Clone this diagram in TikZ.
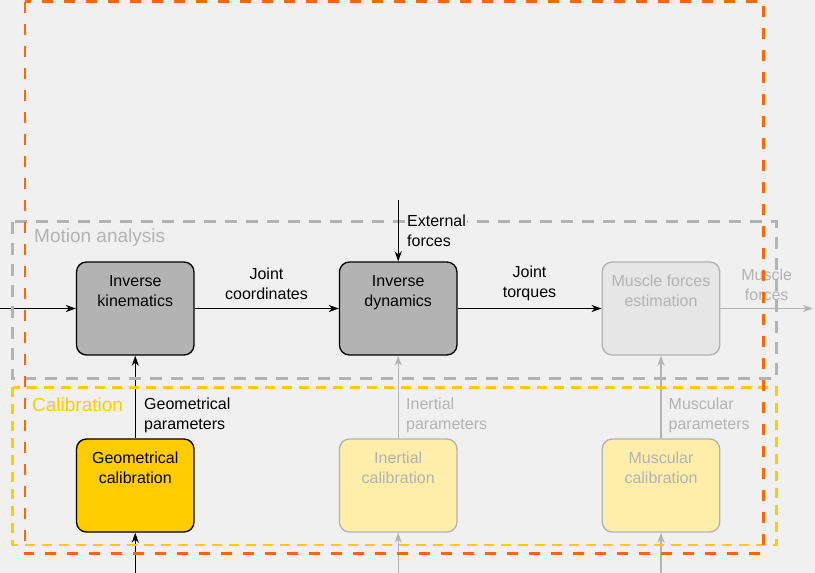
\documentclass[tikz,border=0pt]{standalone}
\usepackage{fontspec}
\setmainfont{Liberation Sans}
\usetikzlibrary{arrows.meta}
\definecolor{bg}{HTML}{F0F0F0}
\definecolor{gr}{HTML}{B3B3B3}
\definecolor{lgr}{HTML}{E6E6E6}
\definecolor{yel}{HTML}{FFCC00}
\definecolor{lyel}{HTML}{FFEEAA}
\definecolor{org}{HTML}{FF6600}
\newcommand\boxtxt[2]{\parbox[b][93pt][t]{116pt}{\centering\rule{0pt}{24pt}#1\\#2}}
\newcommand\twoc[1]{\begin{tabular}[t]{@{}c@{}}#1\end{tabular}}
\newcommand\twol[1]{\begin{tabular}[t]{@{}l@{}}#1\end{tabular}}
\tikzset{
  blk/.style={rounded corners=10pt, minimum width=117.5pt, minimum height=93pt, inner sep=0pt, line width=1.33pt},
  darkblk/.style={blk, draw=black, fill=gr, text=black},
  geoblk/.style={blk, draw=black, fill=yel, text=black},
  fadeblk/.style={blk, draw=gr, fill=lgr, text=gr},
  fadeyblk/.style={blk, draw=gr, fill=lyel, text=gr},
  arr/.style={line width=1.33pt, -{Stealth[length=10pt,width=7pt,inset=3pt]}},
  lbl/.style={inner sep=0pt, text=black},
  glbl/.style={inner sep=0pt, text=gr},
  grp/.style={line width=2.7pt, line cap=butt},
  grptitle/.style={inner sep=0pt, anchor=base west, font=\fontsize{19}{22}\selectfont},
}
\begin{document}
\begin{tikzpicture}[x=1pt, y=-1pt, font=\fontsize{16}{20}\selectfont]
\useasboundingbox[fill=bg] (0,0) rectangle (815,573);

% blocks
\node[darkblk] (ik) at (135.25,308.5) {\boxtxt{Inverse}{kinematics}};
\node[darkblk] (id) at (398.2,308.5) {\boxtxt{Inverse}{dynamics}};
\node[fadeblk] (mfe) at (661,308.5) {\boxtxt{Muscle forces}{estimation}};
\node[geoblk] (gc) at (135.25,485.5) {\boxtxt{Geometrical}{calibration}};
\node[fadeyblk] (ic) at (398.2,485.5) {\boxtxt{Inertial}{calibration}};
\node[fadeyblk] (mc) at (661,485.5) {\boxtxt{Muscular}{calibration}};

% free ends
\coordinate (in) at (0,308.5);
\coordinate (out) at (813,308.5);
\coordinate (ef) at (398.2,200);
\coordinate (gin) at (135.25,573);
\coordinate (iin) at (398.2,573);
\coordinate (min) at (661,573);

% connectors
\draw[arr] (in) -- (ik);
\draw[arr] (ik) -- (id);
\draw[arr] (id) -- (mfe);
\draw[arr, draw=gr] (mfe) -- (out);
\draw[arr] (gc) -- (ik);
\draw[arr, draw=gr] (ic) -- (id);
\draw[arr, draw=gr] (mc) -- (mfe);
\draw[arr] (gin) -- (gc);
\draw[arr, draw=gr] (iin) -- (ic);
\draw[arr, draw=gr] (min) -- (mc);

% connector labels
\node[lbl, anchor=base] (ljc) at (266.5,279) {\twoc{Joint\\coordinates}};
\node[lbl, anchor=base] (ljt) at (529.5,277.5) {\twoc{Joint\\torques}};
\node[glbl, anchor=base] (lmf) at (766.7,280) {\twoc{Muscle\\forces}};
\node[lbl, anchor=base west] (lgp) at (144,409) {\twol{Geometrical\\parameters}};
\node[glbl, anchor=base west] (lip) at (406,409) {\twol{Inertial\\parameters}};
\node[glbl, anchor=base west] (lmp) at (668.5,409) {\twol{Muscular\\parameters}};

% group titles
\node[grptitle, text=gr] (tma) at (34,242.5) {Motion analysis};
\node[grptitle, text=yel] (tca) at (32,411.5) {Calibration};

% groups
\draw[grp, draw=gr, dash pattern=on 12pt off 9pt] (12.7,221.7) rectangle (776.7,378.3);
\draw[grp, draw=yel, dash pattern=on 10pt off 7pt] (12.7,387.3) rectangle (776.7,545);
\draw[grp, draw=org, dash pattern=on 11pt off 11pt] (25,1.5) rectangle (763.3,553.3);

% external forces (drawn over the group frame)
\draw[arr] (ef) -- (id);
\node[lbl, anchor=base west, fill=bg, inner xsep=1pt, inner ysep=1pt] (lef) at (406,226) {\twol{External\\forces}};
\end{tikzpicture}
\end{document}
